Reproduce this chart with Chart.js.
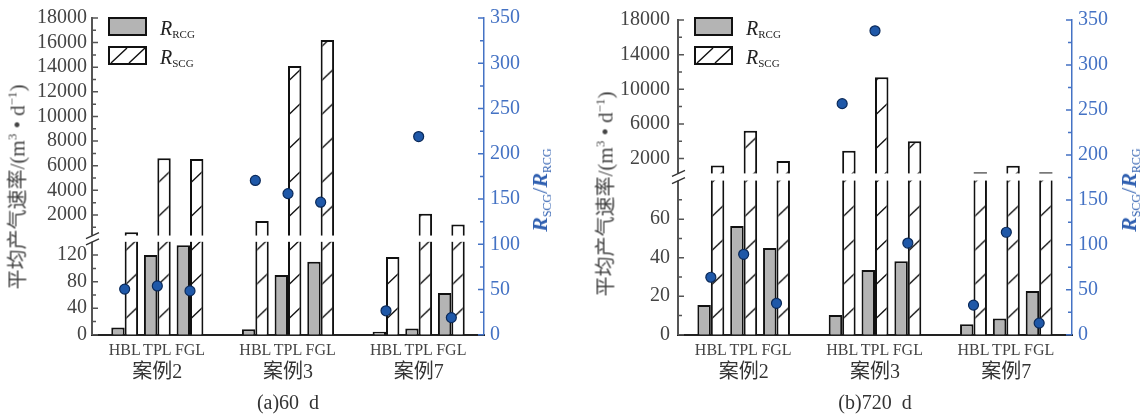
<!DOCTYPE html>
<html>
<head>
<meta charset="utf-8">
<script src="https://cdn.jsdelivr.net/npm/chart.js@4/dist/chart.umd.min.js"></script>
<style>
  body { margin: 0; background: #fff; }
  #wrap { position: relative; width: 1144px; height: 417px; overflow: hidden;
          font-family: "Liberation Serif", "Noto Sans CJK SC", serif; }
  canvas { position: absolute; top: 0; }
  .key { position: absolute; width: 35px; height: 15px; border: 2px solid #111; background: #b4b4b4; }
  .key.hatch { background: #fff; }
  .lab { position: absolute; font-size: 20px; line-height: 1; color: #222; white-space: nowrap; }
  .lab i { font-style: italic; }
  .lab span { font-size: 11px; position: relative; top: 3px; }
  .ytitle { position: absolute; transform: translate(-50%, -50%) rotate(-90deg);
            white-space: nowrap; font-size: 21px; color: #444; }
  .ytitle .cjk { font-family: "Noto Sans CJK SC", sans-serif; font-size: 20px; }
  .ytitle sup { font-size: 13px; }
  .rtitle { position: absolute; transform: translate(-50%, -50%) rotate(-90deg);
            white-space: nowrap; font-size: 22px; color: #2f5fb0; }
  .rtitle b { font-style: italic; }
  .rtitle span { font-size: 12px; position: relative; top: 4px; }
</style>
</head>
<body>
<div id="wrap">
  <canvas id="c60" width="572" height="417" style="left:0"></canvas>
  <canvas id="c720" width="572" height="417" style="left:572px"></canvas>

  <div class="key" style="left:108px;top:17px"></div>
  <div class="lab" style="left:160px;top:18px"><i>R</i><span>RCG</span></div>
  <div class="key hatch" style="left:108px;top:46px"><svg width="35" height="15"><path d="M1 15 L17 0 M19 15 L35 0" stroke="#111" stroke-width="1.4"/></svg></div>
  <div class="lab" style="left:160px;top:47px"><i>R</i><span>SCG</span></div>
  <div class="ytitle" style="left:16px;top:187px"><span class="cjk">平均产气速率</span>/(m<sup>3</sup> • d<sup>−1</sup>)</div>
  <div class="rtitle" style="left:540px;top:190px"><b>R</b><span>SCG</span>/<b>R</b><span>RCG</span></div>

  <div class="key" style="left:694px;top:17px"></div>
  <div class="lab" style="left:746px;top:18px"><i>R</i><span>RCG</span></div>
  <div class="key hatch" style="left:694px;top:46px"><svg width="35" height="15"><path d="M1 15 L17 0 M19 15 L35 0" stroke="#111" stroke-width="1.4"/></svg></div>
  <div class="lab" style="left:746px;top:47px"><i>R</i><span>SCG</span></div>
  <div class="ytitle" style="left:604px;top:194px"><span class="cjk">平均产气速率</span>/(m<sup>3</sup> • d<sup>−1</sup>)</div>
  <div class="rtitle" style="left:1129px;top:190px"><b>R</b><span>SCG</span>/<b>R</b><span>RCG</span></div>
</div>

<script>
const subLabels = ['HBL', 'TPL', 'FGL'];
const caseLabels = ['案例2', '案例3', '案例7'];
// x slots on a 0..12 axis: three per case, one empty slot between cases
const slots = [1, 2, 3, 5, 6, 7, 9, 10, 11];
const caseCentres = [2, 6, 10];
const rightTicks = [0, 50, 100, 150, 200, 250, 300, 350];

// (a) 60 d
const rcg60 = [11, 120, 135, 8.5, 90, 110, 4.5, 9.5, 63];
const scg60 = [600, 6600, 6550, 1500, 14100, 16200, 117, 2100, 1220];
const ratio60 = [50.5, 54, 48.5, 170.5, 156, 146.5, 26.5, 219, 19];
const lowTicks60 = [0, 40, 80, 120];
const lowMinor60 = [20, 60, 100];
const highTicks60 = [2000, 4000, 6000, 8000, 10000, 12000, 14000, 16000, 18000];
const highMinor60 = [1000, 3000, 5000, 7000, 9000, 11000, 13000, 15000, 17000];

// (b) 720 d
const rcg720 = [15.5, 56.5, 45, 10.3, 33.6, 38.2, 5.5, 8.4, 22.7];
const scg720 = [1200, 5200, 1700, 2900, 11400, 4000, 400, 1150, 400];
const ratio720 = [64, 89.5, 35, 257, 338, 102, 33, 114, 13];
const lowTicks720 = [0, 20, 40, 60];
const lowMinor720 = [10, 30, 50, 70];
const highTicks720 = [2000, 6000, 10000, 14000, 18000];
const highMinor720 = [4000, 8000, 12000, 16000];

const LEFT_MAX = 316;   // broken left axis, in plot units
const serif = "'Liberation Serif', 'Noto Sans CJK SC', serif";
const blue = '#4472c4';

// hatch tile for the R_SCG bars
const tile = document.createElement('canvas');
tile.width = 14; tile.height = 34;
(function () {
    const g = tile.getContext('2d');
    g.fillStyle = '#fff';
    g.fillRect(0, 0, 14, 34);
    g.strokeStyle = '#111';
    g.lineWidth = 1.3;
    g.beginPath();
    g.moveTo(0, 13.5);
    g.lineTo(14, 0);
    g.stroke();
})();

function makeChart(canvasId, p) {
    const tf = v => v <= p.lowMax ? v * p.lowK : p.highB + v * p.highK;
    const majorVals = p.lowTicks.concat(p.highTicks);
    const majorT = majorVals.map(tf);
    const minorT = p.lowMinor.concat(p.highMinor).map(tf);

    const decor = {
        id: 'decor',
        // white gap of the broken axis, drawn right after the hatched bars
        afterDatasetDraw(chart, args) {
            if (args.index !== 1) return;
            const ctx = chart.ctx, a = chart.chartArea, ys = chart.scales.y;
            const yHi = ys.getPixelForValue(p.gapTop);
            const yLo = ys.getPixelForValue(p.lowMax * p.lowK);
            ctx.save();
            ctx.fillStyle = '#fff';
            ctx.fillRect(a.left - 3, yHi, a.right - a.left + 1, yLo - yHi);
            ctx.strokeStyle = '#333';
            ctx.lineWidth = 1.4;
            ctx.beginPath();
            ctx.moveTo(a.left - 6, yHi + 3); ctx.lineTo(a.left + 7, yHi - 3);
            ctx.moveTo(a.left - 6, yLo + 3); ctx.lineTo(a.left + 7, yLo - 3);
            ctx.stroke();
            ctx.restore();
        },
        // inward tick marks
        afterDraw(chart) {
            const ctx = chart.ctx, a = chart.chartArea;
            const ys = chart.scales.y, y2 = chart.scales.y2;
            ctx.save();
            ctx.lineWidth = 1.5;
            ctx.strokeStyle = '#555';
            ctx.beginPath();
            majorT.forEach(t => { const y = ys.getPixelForValue(t); ctx.moveTo(a.left, y); ctx.lineTo(a.left + 6, y); });
            minorT.forEach(t => { const y = ys.getPixelForValue(t); ctx.moveTo(a.left, y); ctx.lineTo(a.left + 4, y); });
            ctx.stroke();
            ctx.strokeStyle = blue;
            ctx.beginPath();
            rightTicks.forEach(v => { const y = y2.getPixelForValue(v); ctx.moveTo(a.right, y); ctx.lineTo(a.right - 6, y); });
            rightTicks.slice(1).forEach(v => { const y = y2.getPixelForValue(v - 25); ctx.moveTo(a.right, y); ctx.lineTo(a.right - 4, y); });
            ctx.stroke();
            ctx.restore();
        }
    };

    new Chart(document.getElementById(canvasId), {
        type: 'bar',
        data: {
            datasets: [{
                label: 'R_RCG',
                data: p.rcg.map((v, i) => ({ x: slots[i], y: tf(v) })),
                backgroundColor: '#b4b4b4',
                borderColor: '#111',
                borderWidth: 2,
                order: 2
            }, {
                label: 'R_SCG',
                data: p.scg.map((v, i) => ({ x: slots[i], y: tf(v) })),
                backgroundColor: ctx => {
                    if (ctx.type !== 'data') return '#fff';
                    const pat = ctx.chart.ctx.createPattern(tile, 'repeat');
                    const x0 = ctx.chart.scales.x.getPixelForValue(ctx.raw.x);
                    pat.setTransform(new DOMMatrix().translate(x0, 0));
                    return pat;
                },
                borderColor: '#111',
                borderWidth: 2,
                order: 3
            }, {
                type: 'scatter',
                label: 'R_SCG/R_RCG',
                data: p.ratio.map((v, i) => ({ x: slots[i], y: v })),
                yAxisID: 'y2',
                pointRadius: 5,
                backgroundColor: '#1f58a8',
                borderColor: '#0b2a5a',
                borderWidth: 1.2,
                order: 1
            }]
        },
        options: {
            responsive: false,
            animation: false,
            categoryPercentage: 0.82,
            barPercentage: 1,
            layout: { padding: { top: 18, bottom: 1.2, left: 0, right: 0 } },
            plugins: {
                legend: { display: false },
                tooltip: { enabled: false },
                title: {
                    display: true,
                    position: 'bottom',
                    fullSize: false,
                    text: p.title,
                    color: '#333',
                    font: { family: serif, size: 20, weight: 'normal', lineHeight: 1.2 },
                    padding: { top: 7, bottom: 0 }
                }
            },
            scales: {
                x: {
                    type: 'linear', min: 0, max: 12, offset: false,
                    grid: { display: false, drawTicks: false },
                    border: { display: true, color: '#222', width: 2 },
                    afterBuildTicks: s => { s.ticks = slots.map(v => ({ value: v })); },
                    afterFit: s => { s.height = 24; },
                    ticks: {
                        autoSkip: false, maxRotation: 0, padding: 6,
                        color: '#444', font: { family: serif, size: 16 },
                        callback: (v, i) => subLabels[i % 3]
                    }
                },
                x2: {
                    type: 'linear', axis: 'x', position: 'bottom', min: 0, max: 12, offset: false,
                    grid: { display: false, drawTicks: false },
                    border: { display: false },
                    afterBuildTicks: s => { s.ticks = caseCentres.map(v => ({ value: v })); },
                    afterFit: s => { s.height = 26; },
                    ticks: {
                        autoSkip: false, maxRotation: 0, padding: 2,
                        color: '#333', font: { family: serif, size: 20 },
                        callback: (v, i) => caseLabels[i]
                    }
                },
                y: {
                    position: 'left', min: 0, max: LEFT_MAX,
                    grid: { display: false, drawTicks: false },
                    border: { display: true, color: '#555', width: 2 },
                    afterBuildTicks: s => { s.ticks = majorT.map(v => ({ value: v })); },
                    afterFit: s => { s.width = p.yWidth; },
                    ticks: {
                        autoSkip: false, padding: p.tickPad,
                        color: '#444', font: { family: serif, size: 20 },
                        callback: (v, i) => String(majorVals[i])
                    }
                },
                y2: {
                    position: 'right', min: 0, max: 350,
                    grid: { display: false, drawTicks: false },
                    border: { display: true, color: blue, width: 1.5 },
                    afterBuildTicks: s => { s.ticks = rightTicks.map(v => ({ value: v })); },
                    afterFit: s => { s.width = p.y2Width; },
                    ticks: {
                        autoSkip: false, padding: 6,
                        color: blue, font: { family: serif, size: 20 }
                    }
                }
            }
        },
        plugins: [decor]
    });
}

makeChart('c60', {
    title: '(a)60  d', rcg: rcg60, scg: scg60, ratio: ratio60,
    lowTicks: lowTicks60, lowMinor: lowMinor60, highTicks: highTicks60, highMinor: highMinor60,
    lowMax: 140, lowK: 0.6625, highB: 95, highK: 0.01228, gapTop: 99,
    yWidth: 92, y2Width: 88, tickPad: 5
});

makeChart('c720', {
    title: '(b)720  d', rcg: rcg720, scg: scg720, ratio: ratio720,
    lowTicks: lowTicks720, lowMinor: lowMinor720, highTicks: highTicks720, highMinor: highMinor720,
    lowMax: 80, lowK: 1.935, highB: 159.6, highK: 0.0086875, gapTop: 162,
    yWidth: 106, y2Width: 72, tickPad: 8
});
</script>
</body>
</html>
